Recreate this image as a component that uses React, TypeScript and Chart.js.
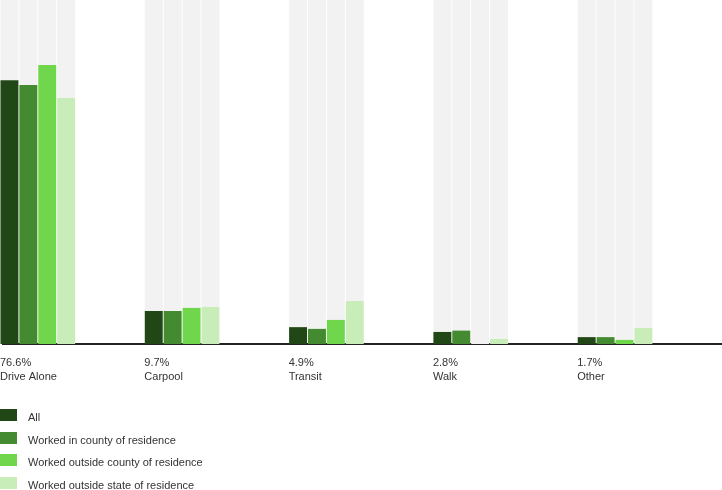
import React, { useEffect, useRef } from "react";
import { Chart, registerables } from "chart.js";

Chart.register(...registerables);

// ---- data ----
const CATEGORIES = ["Drive Alone", "Carpool", "Transit", "Walk", "Other"];
const SHARE_LABELS = ["76.6%", "9.7%", "4.9%", "2.8%", "1.7%"];
const SERIES_NAMES = [
  "All",
  "Worked in county of residence",
  "Worked outside county of residence",
  "Worked outside state of residence",
];
const ALL = [76.7, 9.6, 4.9, 3.5, 2.0];
const IN_COUNTY = [75.3, 9.6, 4.4, 3.9, 2.0];
const OUT_COUNTY = [81.1, 10.5, 7.0, 0, 1.2];
const OUT_STATE = [71.5, 10.8, 12.5, 1.5, 4.7];
const SERIES_VALUES = [ALL, IN_COUNTY, OUT_COUNTY, OUT_STATE];
const SERIES_COLORS = ["#224716", "#448a30", "#70d64c", "#c9edb8"];
const TRACK_COLOR = "#f2f2f2";
const SCALE_MAX = 100;

const FONT = "'Liberation Sans', Arial, Helvetica, sans-serif";
const TEXT_COLOR = "#333333";

export default function App() {
  const canvasRef = useRef<HTMLCanvasElement | null>(null);

  useEffect(() => {
    const canvas = canvasRef.current;
    if (!canvas) return;

    const datasets: any[] = [];
    SERIES_VALUES.forEach((vals, s) => {
      datasets.push({
        label: SERIES_NAMES[s],
        data: vals,
        stack: "s" + s,
        backgroundColor: SERIES_COLORS[s],
        borderWidth: 0,
        clip: false,
      });
      datasets.push({
        label: SERIES_NAMES[s] + " (track)",
        data: vals.map((v) => SCALE_MAX - v),
        stack: "s" + s,
        backgroundColor: TRACK_COLOR,
        borderWidth: 0,
        clip: false,
      });
    });
    // empty slots so that each group sits at the left of its category
    for (let p = 0; p < 4; p++) {
      datasets.push({
        label: "pad" + p,
        data: CATEGORIES.map(() => null),
        stack: "pad" + p,
        backgroundColor: "rgba(0,0,0,0)",
        borderWidth: 0,
      });
    }

    const chart = new Chart(canvas, {
      type: "bar",
      data: { labels: CATEGORIES, datasets },
      options: {
        animation: false,
        responsive: false,
        devicePixelRatio: 1,
        categoryPercentage: 1.048,
        barPercentage: 0.95,
        layout: { padding: { left: 3.45, right: 1, top: 0, bottom: 94 } },
        plugins: {
          legend: { display: false },
          tooltip: { enabled: false },
        },
        scales: {
          x: {
            offset: true,
            grid: { display: false, drawTicks: false },
            border: { display: true, color: "#222222", width: 2 },
            ticks: {
              autoSkip: false,
              maxRotation: 0,
              minRotation: 0,
              align: "start",
              labelOffset: -75.6,
              padding: 12,
              color: TEXT_COLOR,
              font: { family: FONT, size: 11, lineHeight: "14px" },
              callback: (_v: any, i: number) => [SHARE_LABELS[i], CATEGORIES[i]],
            },
          },
          y: {
            display: false,
            stacked: true,
            min: 0,
            max: SCALE_MAX,
          },
        },
      } as any,
    });
    return () => chart.destroy();
  }, []);

  return (
    <div
      style={{
        position: "fixed",
        left: 0,
        top: 0,
        width: 722,
        height: 490,
        overflow: "hidden",
        background: "#ffffff",
      }}
    >
      <canvas
        ref={canvasRef}
        width={726}
        height={490}
        style={{ position: "absolute", left: 0, top: 0, width: 726, height: 490 }}
      />
      {SERIES_NAMES.map((name, i) => (
        <React.Fragment key={name}>
          <div
            style={{
              position: "absolute",
              left: 0,
              top: 409 + i * 22.7,
              width: 17,
              height: 12,
              background: SERIES_COLORS[i],
            }}
          />
          <div
            style={{
              position: "absolute",
              left: 28,
              top: 411 + i * 22.7,
              fontFamily: FONT,
              fontSize: 11,
              lineHeight: "12px",
              color: TEXT_COLOR,
              whiteSpace: "nowrap",
            }}
          >
            {name}
          </div>
        </React.Fragment>
      ))}
    </div>
  );
}
